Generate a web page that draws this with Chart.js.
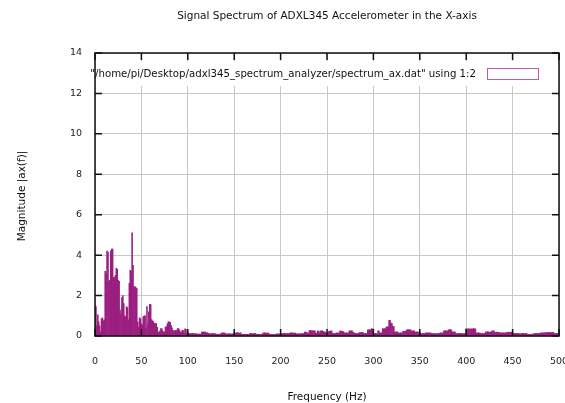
<!DOCTYPE html>
<html><head><meta charset="utf-8">
<script src="https://cdn.jsdelivr.net/npm/chart.js@4"></script>
<style>html,body{margin:0;padding:0;background:#fff;overflow:hidden}</style>
</head><body><canvas id="c" width="565" height="403"></canvas>
<script>
const titleText = "Signal Spectrum of ADXL345 Accelerometer in the X-axis";
const xTitle = "Frequency (Hz)";
const yTitle = "Magnitude |ax(f)|";
const legendLabel = '"/home/pi/Desktop/adxl345_spectrum_analyzer/spectrum_ax.dat" using 1:2';
const xTicks = [0, 50, 100, 150, 200, 250, 300, 350, 400, 450, 500];
const yTicks = [0, 2, 4, 6, 8, 10, 12, 14];
const frequencies = [];
for (let i = 0; i < 500; i++) frequencies.push(i);
const magnitudes = [
1.5,1.45,0.5,1.05,0.7,0.5,0.2,0.85,0.9,0.75,0.8,3.2,3.1,4.2,4.15,2.7,2.75,4.2,4.3,4.3,
2.9,2.9,3.0,3.35,3.3,2.75,2.7,1.3,1.1,1.9,2.0,1.6,1.0,0.95,1.45,1.4,0.8,2.6,3.25,3.2,
5.1,3.5,2.45,2.45,2.4,2.35,0.7,0.45,0.9,0.85,0.6,0.55,0.95,1.0,1.0,0.35,1.45,0.6,1.2,1.57,
1.55,0.81,0.75,0.7,0.62,0.6,0.62,0.43,0.2,0.2,0.25,0.37,0.36,0.25,0.2,0.2,0.45,0.45,0.6,0.7,
0.7,0.68,0.53,0.4,0.28,0.27,0.22,0.28,0.27,0.37,0.36,0.3,0.2,0.18,0.28,0.27,0.15,0.35,0.33,0.15,
0.15,0.14,0.12,0.11,0.12,0.13,0.12,0.1,0.12,0.11,0.1,0.09,0.1,0.1,0.08,0.2,0.18,0.2,0.19,0.2,
0.15,0.16,0.14,0.12,0.1,0.12,0.11,0.13,0.12,0.1,0.11,0.08,0.07,0.09,0.08,0.07,0.14,0.15,0.16,0.15,
0.14,0.1,0.11,0.09,0.1,0.12,0.1,0.08,0.11,0.1,0.07,0.15,0.16,0.14,0.17,0.15,0.13,0.16,0.08,0.07,
0.09,0.08,0.07,0.09,0.08,0.07,0.08,0.12,0.13,0.11,0.12,0.1,0.13,0.12,0.08,0.07,0.09,0.08,0.06,0.08,
0.07,0.15,0.14,0.16,0.15,0.13,0.14,0.15,0.08,0.07,0.09,0.08,0.06,0.08,0.07,0.09,0.1,0.11,0.09,0.1,
0.12,0.13,0.11,0.12,0.14,0.12,0.1,0.13,0.12,0.11,0.15,0.14,0.16,0.15,0.13,0.15,0.14,0.1,0.11,0.09,
0.12,0.1,0.11,0.13,0.12,0.11,0.2,0.19,0.17,0.16,0.12,0.26,0.28,0.25,0.27,0.24,0.26,0.25,0.15,0.14,
0.25,0.24,0.15,0.25,0.24,0.26,0.22,0.2,0.19,0.12,0.15,0.14,0.22,0.25,0.24,0.25,0.12,0.13,0.11,0.12,
0.15,0.14,0.16,0.15,0.25,0.22,0.24,0.23,0.2,0.15,0.14,0.16,0.15,0.14,0.25,0.24,0.26,0.25,0.18,0.17,
0.12,0.13,0.11,0.12,0.13,0.17,0.16,0.18,0.17,0.16,0.12,0.11,0.13,0.12,0.31,0.3,0.32,0.29,0.36,0.35,
0.12,0.11,0.13,0.12,0.11,0.25,0.24,0.15,0.14,0.16,0.36,0.35,0.37,0.34,0.45,0.44,0.46,0.78,0.76,0.64,
0.62,0.48,0.47,0.2,0.19,0.21,0.2,0.15,0.14,0.16,0.15,0.14,0.23,0.22,0.24,0.23,0.31,0.3,0.32,0.29,
0.31,0.25,0.24,0.26,0.25,0.2,0.19,0.21,0.2,0.18,0.2,0.12,0.11,0.13,0.12,0.11,0.15,0.14,0.16,0.15,
0.14,0.16,0.15,0.12,0.11,0.13,0.12,0.1,0.12,0.11,0.13,0.12,0.15,0.14,0.16,0.15,0.25,0.24,0.26,0.25,
0.24,0.31,0.3,0.32,0.29,0.2,0.19,0.21,0.2,0.12,0.11,0.13,0.12,0.11,0.13,0.12,0.1,0.12,0.11,0.13,
0.35,0.34,0.36,0.35,0.33,0.36,0.34,0.35,0.37,0.34,0.35,0.15,0.14,0.16,0.15,0.14,0.12,0.11,0.13,0.12,
0.11,0.2,0.19,0.21,0.2,0.18,0.2,0.19,0.25,0.24,0.26,0.18,0.17,0.19,0.18,0.17,0.18,0.15,0.14,0.16,
0.15,0.14,0.16,0.15,0.18,0.17,0.19,0.18,0.17,0.19,0.18,0.12,0.11,0.13,0.12,0.11,0.13,0.12,0.1,0.12,
0.11,0.13,0.12,0.11,0.12,0.13,0.08,0.07,0.09,0.08,0.07,0.09,0.08,0.12,0.11,0.13,0.12,0.11,0.13,0.12,
0.15,0.14,0.16,0.15,0.14,0.17,0.16,0.18,0.17,0.16,0.18,0.17,0.16,0.18,0.17,0.12,0.11,0.13,0.12,0.11
];

const FONT = '"DejaVu Sans", sans-serif';
const barColor = '#9b1e80';
const keyColor = '#c05aa6';

const framePlugin = {
  id: 'frame',
  afterDatasetsDraw(chart) {
    const ctx = chart.ctx;
    const a = chart.chartArea;
    const xs = chart.scales.x, ys = chart.scales.y;
    ctx.save();
    // key area (opaque)
    ctx.fillStyle = '#fff';
    ctx.fillRect(a.left + 1, 61, a.right - a.left - 2, 25);
    // border
    ctx.strokeStyle = '#111';
    ctx.lineWidth = 1.5;
    ctx.strokeRect(a.left, a.top, a.right - a.left, a.bottom - a.top);
    // inward ticks
    ctx.beginPath();
    const T = 7;
    xTicks.forEach(v => {
      const px = xs.getPixelForValue(v);
      ctx.moveTo(px, a.bottom); ctx.lineTo(px, a.bottom - T);
      ctx.moveTo(px, a.top); ctx.lineTo(px, a.top + T);
    });
    yTicks.forEach(v => {
      const py = ys.getPixelForValue(v);
      ctx.moveTo(a.left, py); ctx.lineTo(a.left + T, py);
      ctx.moveTo(a.right, py); ctx.lineTo(a.right - T, py);
    });
    ctx.stroke();
    // legend
    ctx.fillStyle = '#111';
    ctx.font = '10.2px ' + FONT;
    ctx.textAlign = 'right';
    ctx.textBaseline = 'middle';
    ctx.fillText(legendLabel, 476, 74);
    ctx.strokeStyle = keyColor;
    ctx.lineWidth = 1;
    ctx.strokeRect(487.5, 68.5, 51, 11);
    // titles
    const cx = (a.left + a.right) / 2;
    ctx.textAlign = 'center';
    ctx.font = '10.5px ' + FONT;
    ctx.fillText(titleText, cx, 16);
    ctx.fillText(xTitle, cx, 397);
    ctx.translate(22, 196);
    ctx.rotate(-Math.PI / 2);
    ctx.fillText(yTitle, 0, 0);
    ctx.restore();
  }
};

new Chart(document.getElementById('c'), {
  type: 'bar',
  data: {
    datasets: [{
      label: legendLabel,
      data: frequencies.map((f, i) => ({ x: f, y: magnitudes[i] })),
      backgroundColor: barColor,
      borderWidth: 0,
      barPercentage: 1,
      categoryPercentage: 1,
      grouped: false
    }]
  },
  options: {
    responsive: false,
    animation: false,
    devicePixelRatio: 1,
    layout: { padding: { left: 0, right: 6, top: 53, bottom: 0 } },
    plugins: { legend: { display: false }, title: { display: false }, tooltip: { enabled: false } },
    scales: {
      x: {
        type: 'linear', min: 0, max: 500, offset: false,
        afterBuildTicks: s => { s.ticks = xTicks.map(v => ({ value: v })); },
        ticks: { padding: 20, color: '#222', font: { family: FONT, size: 9.5 }, maxRotation: 0, autoSkip: false },
        grid: { color: '#c8c8c8', drawTicks: false, offset: false },
        border: { display: false },
        afterFit: s => { s.height = 67; s.paddingLeft = 0; s.paddingRight = 0; }
      },
      y: {
        min: 0, max: 14,
        afterBuildTicks: s => { s.ticks = yTicks.map(v => ({ value: v })); },
        ticks: { padding: 13, color: '#222', font: { family: FONT, size: 9.5 } },
        grid: { color: '#c8c8c8', drawTicks: false },
        border: { display: false },
        afterFit: s => { s.width = 95; s.paddingTop = 0; s.paddingBottom = 0; }
      }
    }
  },
  plugins: [framePlugin]
});
</script>
</body></html>
